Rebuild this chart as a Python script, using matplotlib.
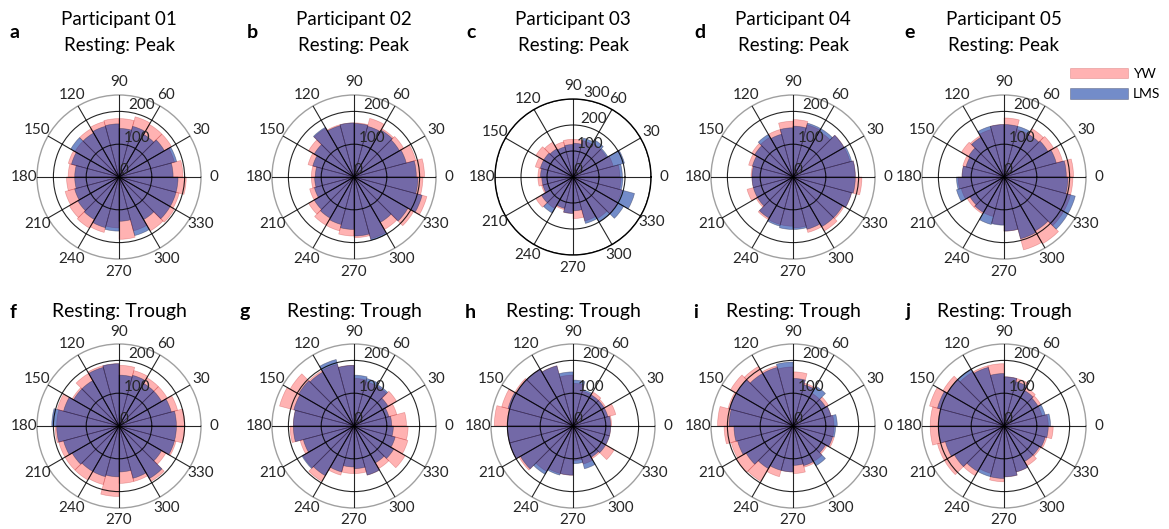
import numpy as np
import matplotlib
matplotlib.use("Agg")
import matplotlib.pyplot as plt

plt.rcParams['font.family'] = ['Lato', 'DejaVu Sans']

# bin heights, 24 bins of 15 deg starting at 0 deg (counter-clockwise)
yw_a = [195, 175, 185, 185, 190, 178, 178, 175, 170, 155, 160, 155, 160, 170, 175, 180, 175, 155, 190, 170, 190, 195, 190, 205]
lms_a = [165, 182, 160, 150, 160, 148, 162, 160, 155, 170, 150, 135, 135, 140, 145, 150, 160, 165, 135, 185, 150, 180, 180, 180]
yw_b = [215, 195, 175, 170, 185, 165, 165, 165, 172, 160, 145, 130, 130, 140, 160, 170, 170, 180, 185, 195, 185, 210, 230, 210]
lms_b = [190, 165, 160, 165, 160, 163, 165, 162, 175, 140, 130, 118, 120, 125, 140, 145, 150, 160, 180, 200, 160, 190, 215, 195]
yw_c = [180, 160, 150, 150, 145, 145, 145, 140, 155, 165, 150, 135, 135, 125, 165, 140, 130, 140, 160, 175, 185, 200, 195, 185]
lms_c = [190, 205, 155, 165, 155, 130, 125, 120, 125, 130, 130, 125, 120, 120, 140, 160, 125, 140, 130, 185, 200, 225, 245, 192]
yw_d = [190, 180, 180, 160, 165, 175, 170, 150, 140, 145, 140, 128, 125, 145, 130, 150, 150, 150, 155, 175, 190, 180, 185, 210]
lms_d = [190, 185, 180, 170, 170, 155, 150, 135, 150, 135, 128, 125, 125, 125, 125, 145, 155, 160, 160, 165, 175, 175, 185, 190]
yw_e = [212, 185, 175, 170, 150, 180, 160, 150, 145, 150, 130, 128, 140, 135, 130, 130, 125, 145, 165, 230, 235, 210, 210, 210]
lms_e = [190, 165, 155, 150, 160, 160, 160, 160, 140, 125, 120, 128, 145, 150, 120, 125, 150, 147, 165, 195, 190, 225, 225, 195]
yw_f = [200, 185, 170, 170, 175, 185, 190, 190, 185, 165, 195, 190, 195, 190, 190, 190, 185, 215, 175, 175, 195, 165, 180, 200]
lms_f = [175, 165, 150, 150, 160, 155, 190, 185, 160, 160, 175, 205, 190, 175, 165, 160, 160, 155, 140, 165, 185, 150, 175, 175]
yw_g = [160, 135, 150, 140, 140, 145, 185, 195, 195, 225, 235, 185, 195, 170, 180, 195, 155, 145, 145, 155, 150, 180, 170, 165]
lms_g = [115, 110, 120, 145, 150, 155, 185, 210, 190, 195, 190, 185, 185, 160, 183, 175, 145, 125, 130, 155, 130, 140, 130, 120]
yw_h = [118, 135, 115, 120, 110, 130, 155, 190, 200, 205, 225, 240, 200, 200, 190, 160, 150, 150, 105, 120, 115, 145, 115, 115]
lms_h = [115, 110, 110, 110, 115, 140, 165, 190, 200, 200, 205, 200, 200, 200, 185, 170, 155, 150, 115, 135, 110, 115, 115, 115]
yw_i = [125, 120, 125, 115, 135, 165, 180, 190, 210, 220, 205, 230, 210, 195, 200, 195, 160, 140, 145, 130, 125, 120, 130, 125]
lms_i = [135, 120, 115, 140, 130, 145, 195, 185, 185, 200, 200, 195, 180, 175, 165, 150, 140, 140, 120, 125, 140, 115, 125, 130]
yw_j = [135, 120, 130, 135, 150, 150, 190, 190, 190, 215, 235, 225, 225, 210, 210, 175, 150, 170, 155, 145, 140, 130, 135, 150]
lms_j = [142, 130, 120, 125, 140, 150, 160, 185, 200, 200, 210, 200, 200, 185, 175, 160, 160, 160, 155, 145, 125, 125, 130, 135]

letters = ['a', 'b', 'c', 'd', 'e', 'f', 'g', 'h', 'i', 'j']
participants = ['Participant 01', 'Participant 02', 'Participant 03', 'Participant 04', 'Participant 05']
yw_all = [yw_a, yw_b, yw_c, yw_d, yw_e, yw_f, yw_g, yw_h, yw_i, yw_j]
lms_all = [lms_a, lms_b, lms_c, lms_d, lms_e, lms_f, lms_g, lms_h, lms_i, lms_j]

W, H = 1169, 529
fig = plt.figure(figsize=(W / 100, H / 100), dpi=100)

centers_x = [119, 354, 573, 793, 1004]
centers_y = [177, 426]
letter_x = [[10, 247, 466, 694, 904], [10, 240, 465, 693, 906]]

yw_color = (1.0, 0.0, 0.0, 0.3)
lms_color = (0.0, 0.18, 0.62, 0.55)

edges = np.deg2rad(np.arange(0, 360, 15))
width = np.deg2rad(15)

for k in range(10):
    row, col = divmod(k, 5)
    cx, cy = centers_x[col], centers_y[row]
    R = 78 if k == 2 else 82
    ax = fig.add_axes([(cx - R) / W, 1 - (cy + R) / H, 2 * R / W, 2 * R / H], projection='polar')
    b1 = ax.bar(edges, yw_all[k], width=width, align='edge', facecolor=yw_color,
                edgecolor=(0.7, 0.1, 0.1, 0.3), linewidth=0.5, label='YW')
    b2 = ax.bar(edges, lms_all[k], width=width, align='edge', facecolor=lms_color,
                edgecolor=(0.1, 0.1, 0.2, 0.4), linewidth=0.5, label='LMS')
    rmax = 300 if k == 2 else 250
    ax.set_ylim(0, rmax)
    if k == 2:
        ax.set_yticks([0, 100, 200, 300])
        ax.spines['polar'].set_color('black')
    else:
        ax.set_yticks([0, 100, 200])
        ax.spines['polar'].set_color('#a0a0a0')
    ax.spines['polar'].set_linewidth(1.0)
    ax.set_rlabel_position(82)
    ax.set_thetagrids(range(0, 360, 30), labels=[str(t) for t in range(0, 360, 30)])
    ax.tick_params(axis='x', labelsize=11, pad=-1.5, colors='#262626')
    ax.tick_params(axis='y', labelsize=11, colors='#262626')
    ax.grid(True, color='black', linewidth=0.8, alpha=0.85)
    ax.set_axisbelow(False)

    lx = letter_x[row][col]
    if row == 0:
        fig.text(cx / W, 1 - 20 / H, participants[col], ha='center', va='center', fontsize=13.5)
        fig.text(cx / W, 1 - 45 / H, 'Resting: Peak', ha='center', va='center', fontsize=13.5)
        fig.text(lx / W, 1 - 33 / H, letters[k], ha='left', va='center',
                 fontsize=14, fontweight='bold')
    else:
        fig.text(cx / W, 1 - 311 / H, 'Resting: Trough', ha='center', va='center', fontsize=14)
        fig.text(lx / W, 1 - 312 / H, letters[k], ha='left', va='center',
                 fontsize=14, fontweight='bold')

    if k == 4:
        fig.legend([b1, b2], ['YW', 'LMS'], loc='center left',
                   bbox_to_anchor=(1070 / W, 1 - 84 / H), frameon=False,
                   borderpad=0, borderaxespad=0,
                   handlelength=4.2, handleheight=0.8, handletextpad=0.35,
                   labelspacing=0.6, fontsize=10)

fig.savefig('out.png', dpi=100)
